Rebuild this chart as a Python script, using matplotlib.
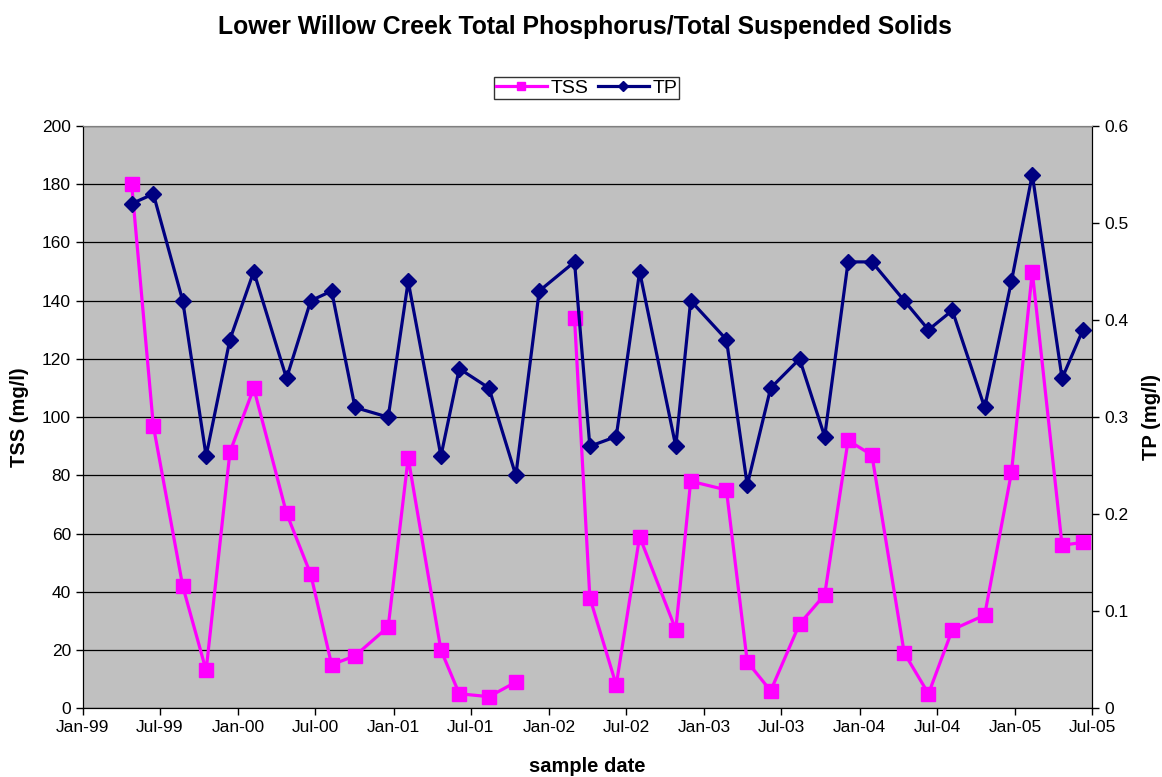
import numpy as np
import pandas as pd
import matplotlib
matplotlib.use("Agg")
import matplotlib.pyplot as plt
import matplotlib.dates as mdates

plt.rcParams['font.family'] = ['Liberation Sans', 'DejaVu Sans']

# sample dates (TP sampled every date, TSS missing on Dec-01)
dates = pd.to_datetime([
    "1999-04-26", "1999-06-16", "1999-08-24", "1999-10-18", "1999-12-13",
    "2000-02-07", "2000-04-24", "2000-06-20", "2000-08-08", "2000-10-02",
    "2000-12-19", "2001-02-04", "2001-04-22", "2001-06-04", "2001-08-13",
    "2001-10-15", "2001-12-09", "2002-03-02", "2002-04-07", "2002-06-08",
    "2002-08-02", "2002-10-26", "2002-11-30", "2003-02-22", "2003-04-12",
    "2003-06-06", "2003-08-13", "2003-10-11", "2003-12-05", "2004-01-30",
    "2004-04-15", "2004-06-11", "2004-08-06", "2004-10-21", "2004-12-23",
    "2005-02-10", "2005-04-21", "2005-06-09",
])

tss = [180, 97, 42, 13, 88, 110, 67, 46, 15, 18,
       28, 86, 20, 5, 4, 9, np.nan, 134, 38, 8,
       59, 27, 78, 75, 16, 6, 29, 39, 92, 87,
       19, 5, 27, 32, 81, 150, 56, 57]

tp = [0.52, 0.53, 0.42, 0.26, 0.38, 0.45, 0.34, 0.42, 0.43, 0.31,
      0.30, 0.44, 0.26, 0.35, 0.33, 0.24, 0.43, 0.46, 0.27, 0.28,
      0.45, 0.27, 0.42, 0.38, 0.23, 0.33, 0.36, 0.28, 0.46, 0.46,
      0.42, 0.39, 0.41, 0.31, 0.44, 0.55, 0.34, 0.39]

fig = plt.figure(figsize=(11.62, 7.77), dpi=100)
ax = fig.add_axes([0.0712, 0.0884, 0.8688, 0.7494])
ax.set_facecolor("#C0C0C0")

l1, = ax.plot(dates, tss, color="#FF00FF", lw=2.3, marker="s", ms=9.5,
              label="TSS", zorder=3)
ax.set_ylim(0, 200)
ax.set_yticks(np.arange(0, 201, 20))
ax.grid(axis="y", color="black", lw=0.9)
ax.set_axisbelow(True)
ax.set_xlim(pd.Timestamp("1999-01-01"), pd.Timestamp("2005-07-01"))
ax.xaxis.set_major_locator(mdates.MonthLocator(bymonth=[1, 7]))
ax.xaxis.set_major_formatter(mdates.DateFormatter("%b-%y"))

ax2 = ax.twinx()
l2, = ax2.plot(dates, tp, color="#000080", lw=2.3, marker="D", ms=8.5,
               label="TP", zorder=3)
ax2.set_ylim(0, 0.6)
ax2.set_yticks(np.arange(0, 0.61, 0.1))
ax2.set_yticklabels(["0", "0.1", "0.2", "0.3", "0.4", "0.5", "0.6"])

for a in (ax, ax2):
    a.tick_params(labelsize=12.5, length=5, width=1, direction="out")
    for s in a.spines.values():
        s.set_color("black")
    a.spines["top"].set_color("#808080")

ax.set_xlabel("sample date", fontsize=14.5, fontweight="bold", labelpad=16)
ax.set_ylabel("TSS (mg/l)", fontsize=14.5, fontweight="bold", labelpad=9)
ax2.set_ylabel("TP (mg/l)", fontsize=14.5, fontweight="bold", labelpad=10)

fig.text(0.503, 0.965,
         "Lower Willow Creek Total Phosphorus/Total Suspended Solids",
         ha="center", va="center", fontsize=17.8, fontweight="bold")

fig.legend(handles=[l1, l2], loc="center", bbox_to_anchor=(0.505, 0.887),
           ncol=2, fontsize=14, frameon=True, fancybox=False, edgecolor="black",
           handlelength=2.6, handletextpad=0.2, columnspacing=0.5,
           borderpad=0.1, borderaxespad=0, markerscale=0.6)

fig.savefig("out.png", dpi=100)
